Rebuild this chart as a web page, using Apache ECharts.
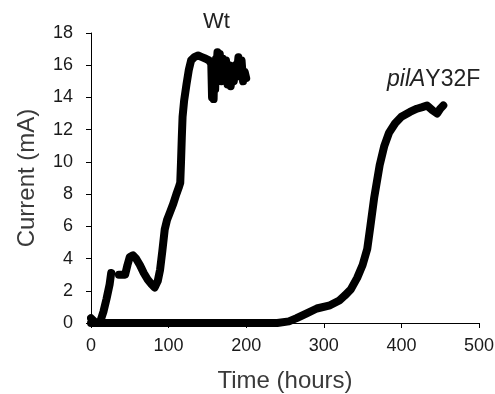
<!DOCTYPE html>
<html>
<head>
<meta charset="utf-8">
<script src="https://cdn.jsdelivr.net/npm/echarts@6/dist/echarts.min.js"></script>
<style>html,body{margin:0;padding:0;background:#fff}#c{width:495px;height:394px}</style>
</head>
<body>
<div id="c"></div>
<script>
const wtTime = [0, 4, 8, 12, 16, 20, 24, 26, null, 36, 40, 44, 47, 50, 54, 58, 63, 68, 73, 78, 82, 84, 86, 89, 92, 95, 98, 102, 106, 110, 113, 115, 116, 117, 118, 120, 123, 126, 129, 133, 138, 143, 148, 152, 155, 156, 157, 158, 159, 160, 161, 162, 163, 164, 165, 166, 168, 170, 172, 174, 176, 178, 180, 182, 184, 186, 188, 190, 192, 194, 196, 198, 200];
const wtCurrent = [0.3, 0.1, 0, 0.1, 0.7, 1.5, 2.4, 3.1, null, 3.0, 3.0, 3.0, 3.6, 4.1, 4.2, 4.0, 3.6, 3.1, 2.7, 2.4, 2.2, 2.2, 2.6, 3.3, 4.5, 5.8, 6.4, 6.9, 7.4, 8.0, 8.4, 8.7, 10.0, 11.5, 12.8, 13.8, 14.8, 15.7, 16.3, 16.5, 16.6, 16.5, 16.4, 16.3, 16.1, 14.0, 15.8, 13.9, 16.2, 14.5, 16.4, 16.0, 16.8, 16.9, 15.5, 16.7, 15.0, 16.4, 15.2, 16.3, 14.8, 16.0, 14.7, 15.5, 15.0, 16.0, 15.5, 16.5, 15.3, 16.3, 15.0, 15.6, 15.2];
const pilaTime = [0, 50, 100, 150, 200, 240, 255, 265, 278, 291, 308, 320, 327, 335, 343, 350, 356, 360, 365, 372, 378, 384, 392, 400, 411, 420, 427, 433, 440, 446, 450, 454];
const pilaCurrent = [0, 0, 0, 0, 0, 0, 0.1, 0.3, 0.6, 0.9, 1.1, 1.4, 1.7, 2.1, 2.8, 3.6, 4.6, 6.0, 7.8, 9.8, 11.0, 11.8, 12.4, 12.8, 13.1, 13.3, 13.4, 13.5, 13.2, 13.0, 13.3, 13.5];
const xTicks = [0, 100, 200, 300, 400, 500];
const yTicks = [0, 2, 4, 6, 8, 10, 12, 14, 16, 18];

const pair = (xs, ys) => xs.map((x, i) => (x === null ? [null, null] : [x, ys[i]]));
const font = 'Liberation Sans, Arial, sans-serif';
const chart = echarts.init(document.getElementById('c'));
chart.setOption({
  animation: false,
  grid: { left: 91, right: 16, top: 33, bottom: 71, containLabel: false, outerBoundsMode: 'none' },
  xAxis: {
    type: 'value', min: xTicks[0], max: xTicks[xTicks.length - 1], interval: 100,
    name: 'Time (hours)', nameLocation: 'middle', nameGap: 46,
    nameTextStyle: { fontFamily: font, fontSize: 24, color: '#3a3a3a' },
    axisLine: { lineStyle: { color: '#000', width: 1 } },
    axisTick: { show: true, length: 5, lineStyle: { color: '#000' } },
    axisLabel: { fontFamily: font, fontSize: 18, color: '#1a1a1a', margin: 14 },
    splitLine: { show: false }
  },
  yAxis: {
    type: 'value', min: yTicks[0], max: yTicks[yTicks.length - 1], interval: 2,
    name: 'Current (mA)', nameLocation: 'middle', nameGap: 52,
    nameTextStyle: { fontFamily: font, fontSize: 24, color: '#3a3a3a' },
    axisLine: { show: true, lineStyle: { color: '#000', width: 1 } },
    axisTick: { show: true, length: 5, lineStyle: { color: '#000' } },
    axisLabel: { fontFamily: font, fontSize: 18, color: '#1a1a1a', margin: 18 },
    splitLine: { show: false }
  },
  graphic: [
    { type: 'text', left: 203, top: 11, style: { text: 'Wt', font: '22px ' + font, fill: '#222' } },
    { type: 'text', left: 387, top: 68, style: { text: '{i|pilA}Y32F', font: '23px ' + font, fill: '#222',
      rich: { i: { fontStyle: 'italic', fontSize: 23, fontFamily: font, fill: '#222' } } } }
  ],
  series: [
    { name: 'Wt', type: 'line', data: pair(wtTime, wtCurrent), showSymbol: false, connectNulls: false,
      lineStyle: { color: '#000', width: 8, cap: 'round', join: 'round' } },
    { name: 'pilAY32F', type: 'line', data: pair(pilaTime, pilaCurrent), showSymbol: false,
      lineStyle: { color: '#000', width: 8, cap: 'round', join: 'round' } }
  ]
});
</script>
</body>
</html>
